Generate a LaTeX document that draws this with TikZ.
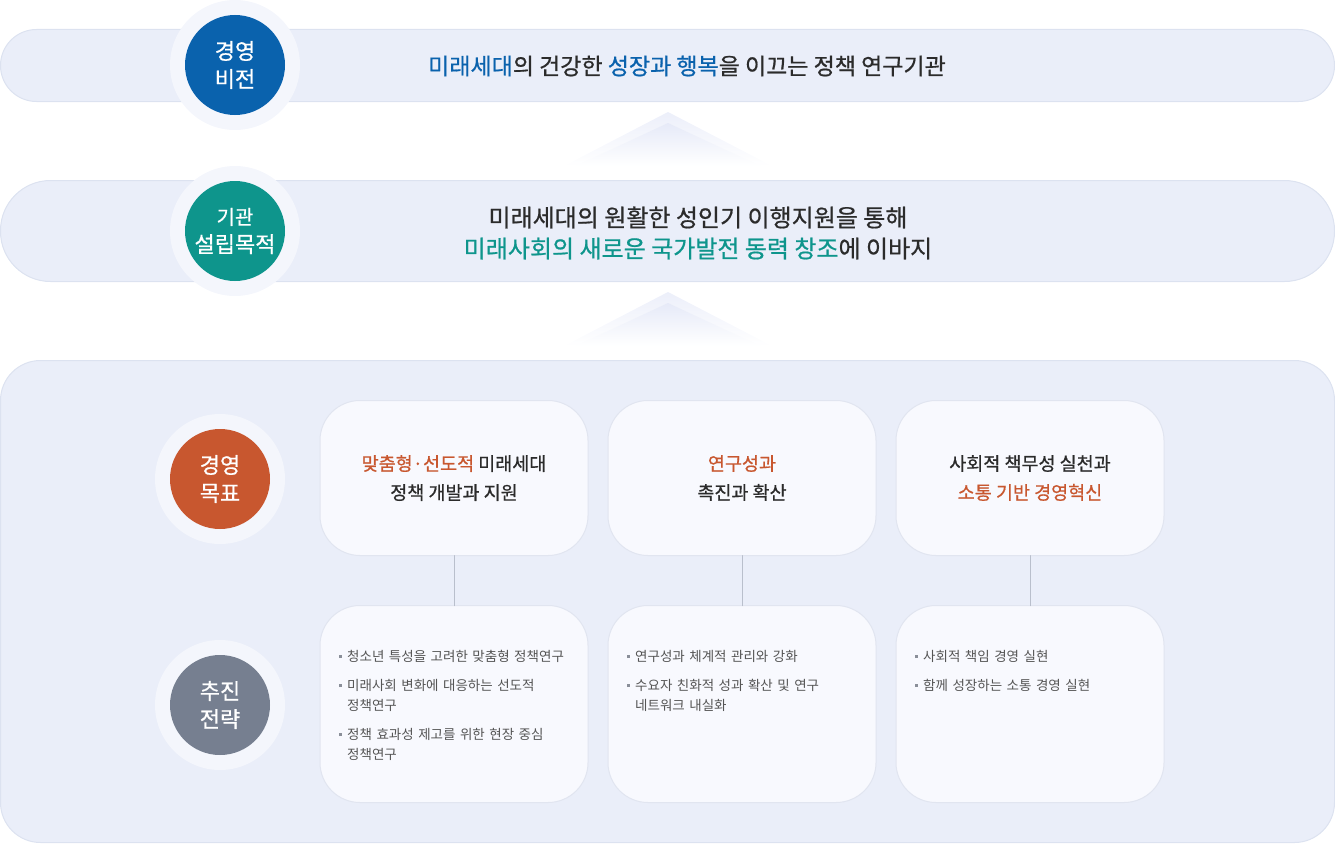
\documentclass[tikz,border=0pt]{standalone}
\usepackage{fontspec}
\setmainfont{Noto Sans CJK KR}
\newfontfamily\krmedium[FakeBold=0.7]{Noto Sans CJK KR}
\usetikzlibrary{positioning}
\definecolor{bandfill}{HTML}{EAEEF9}
\definecolor{bandline}{HTML}{DCE2F0}
\definecolor{halo}{HTML}{F4F6FC}
\definecolor{visionblue}{HTML}{0A62AD}
\definecolor{purposeteal}{HTML}{0E958C}
\definecolor{goalorange}{HTML}{C8572F}
\definecolor{stratgray}{HTML}{767F90}
\definecolor{cardfill}{HTML}{F8F9FE}
\definecolor{cardline}{HTML}{E1E5F0}
\definecolor{textdark}{HTML}{2B2B2B}
\definecolor{textgray}{HTML}{555555}
\definecolor{dotgray}{HTML}{8A8F99}
\definecolor{linkgray}{HTML}{B9BFCC}
\definecolor{chevtop}{HTML}{ECEFFA}
\definecolor{chevinner}{HTML}{E6EAF8}
\newcommand*\mybadge[4]{%
    \fill[halo] (#2) circle[radius=65pt];
    \node[badge,fill=#3] (#1) at (#2) {#4};
}
\newcommand*\mystrat[1]{\par\hangindent=8pt\hangafter=1\noindent\makebox[8pt][l]{\textcolor{dotgray}{\rule[3.5pt]{3pt}{3pt}}}#1}

\begin{document}
\begin{tikzpicture}[x=1pt,y=-1pt,line cap=round,line join=round,
    band/.style={draw=bandline,fill=bandfill,line width=1pt},
    badge/.style={circle,minimum size=100pt,inner sep=0pt,text=white,align=center,font=\krmedium\fontsize{22}{28}\selectfont},
    card/.style={draw=cardline,fill=cardfill,line width=1pt,rounded corners=40pt,minimum width=268pt,inner sep=0pt,outer sep=0pt},
    goalcard/.style={card,minimum height=155pt,align=center,text=textdark,font=\krmedium\fontsize{18.5}{29}\selectfont},
    stratcard/.style={card,minimum height=197pt},
    stratlist/.style={text width=236pt,align=left,inner sep=0pt,text=textgray,font=\fontsize{13.5}{20}\selectfont},
    headline/.style={align=center,text=textdark,font=\krmedium\fontsize{23}{31}\selectfont},
    link/.style={draw=linkgray,line width=1pt},
    chevron/.style={top color=chevtop,bottom color=white,draw=none}]
\useasboundingbox (0,0) rectangle (1335,843);

% vision and purpose
\draw[band,rounded corners=36pt] (0.5,29.5) rectangle (1334.5,101.5);
\draw[band,rounded corners=50pt] (0.5,180.5) rectangle (1334.5,281.5);
\shade[chevron] (668,112) -- (772,166) -- (564,166) -- cycle;
\shade[chevron,top color=chevinner] (668,123) -- (760,166) -- (576,166) -- cycle;
\shade[chevron] (668,292) -- (772,346) -- (564,346) -- cycle;
\shade[chevron,top color=chevinner] (668,303) -- (760,346) -- (576,346) -- cycle;

\mybadge{vision}{235,65}{visionblue}{경영\\비전}
\mybadge{purpose}{235,231}{purposeteal}{\fontsize{20}{27}\selectfont 기관\\설립목적}
\node[headline] (visiontext) at (687,66) {\textcolor{visionblue}{미래세대}의 건강한 \textcolor{visionblue}{성장과 행복}을 이끄는 정책 연구기관};
\node[headline,font=\krmedium\fontsize{24}{31}\selectfont] (purposetext) at (698,233) {미래세대의 원활한 성인기 이행지원을 통해\\\textcolor{purposeteal}{미래사회의 새로운 국가발전 동력 창조}에 이바지};

% goals and strategies
\draw[band,rounded corners=40pt] (0.5,360.5) rectangle (1334.5,842.5);
\mybadge{goal}{220,479}{goalorange}{경영\\목표}
\mybadge{strategy}{220,705}{stratgray}{추진\\전략}

\node[goalcard] (g1) at (454,478) {\textcolor{goalorange}{맞춤형·선도적} 미래세대\\정책 개발과 지원};
\node[goalcard,right=20pt of g1] (g2) {\textcolor{goalorange}{연구성과}\\촉진과 확산};
\node[goalcard,right=20pt of g2] (g3) {사회적 책무성 실천과\\\textcolor{goalorange}{소통 기반 경영혁신}};
\node[stratcard,below=50pt of g1] (s1) {};
\node[stratcard,below=50pt of g2] (s2) {};
\node[stratcard,below=50pt of g3] (s3) {};
\foreach \i in {1,2,3}
    \draw[link] (g\i.south) -- (s\i.north);

\node[stratlist,below right=27pt and 19pt of s1.north west] (l1) {\setlength{\parskip}{9pt}%
    \mystrat{청소년 특성을 고려한 맞춤형 정책연구}
    \mystrat{미래사회 변화에 대응하는 선도적\newline 정책연구}
    \mystrat{정책 효과성 제고를 위한 현장 중심\newline 정책연구}\par};
\node[stratlist,below right=27pt and 19pt of s2.north west] (l2) {\setlength{\parskip}{9pt}%
    \mystrat{연구성과 체계적 관리와 강화}
    \mystrat{수요자 친화적 성과 확산 및 연구\newline 네트워크 내실화}\par};
\node[stratlist,below right=27pt and 19pt of s3.north west] (l3) {\setlength{\parskip}{9pt}%
    \mystrat{사회적 책임 경영 실현}
    \mystrat{함께 성장하는 소통 경영 실현}\par};
\end{tikzpicture}
\end{document}
